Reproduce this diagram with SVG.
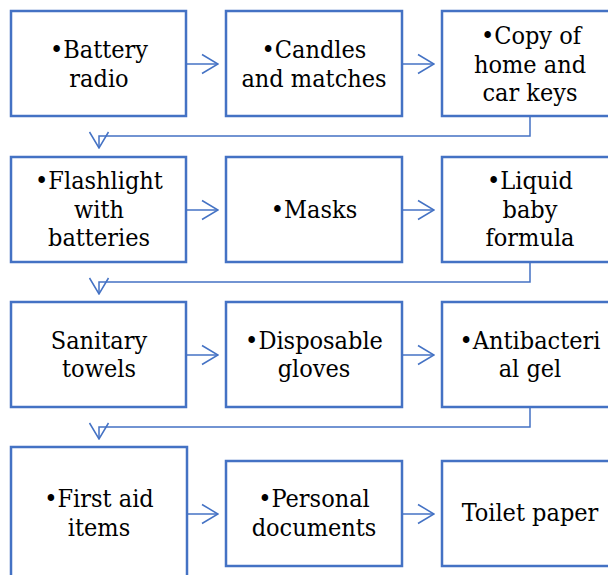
<svg xmlns="http://www.w3.org/2000/svg" width="608" height="575" viewBox="0 0 608 575">
<defs>
<style>
.box{fill:#fff;stroke:#4472C4;stroke-width:2.5}
.t{font-family:'DejaVu Serif Condensed','DejaVu Serif','Liberation Serif',serif;font-stretch:condensed;font-size:25px;fill:#000;text-anchor:middle}
.c{fill:none;stroke:#4472C4;stroke-width:1.5}
</style>
<marker id="ah" viewBox="0 0 18 22" refX="17" refY="11" markerWidth="18" markerHeight="22" markerUnits="userSpaceOnUse" orient="auto">
<path d="M1,1.5 L17,11 L1,20.5" fill="none" stroke="#4472C4" stroke-width="1.5"/>
</marker>
</defs>
<rect width="608" height="575" fill="#fff"/>
<g id="connectors">
<path class="c" d="M186,64 H218" marker-end="url(#ah)"/>
<path class="c" d="M402,64 H434" marker-end="url(#ah)"/>
<path class="c" d="M530,116 V136 H99 V148" marker-end="url(#ah)"/>
<path class="c" d="M186,210 H218" marker-end="url(#ah)"/>
<path class="c" d="M402,210 H434" marker-end="url(#ah)"/>
<path class="c" d="M530,262 V282 H99 V294" marker-end="url(#ah)"/>
<path class="c" d="M186,355 H218" marker-end="url(#ah)"/>
<path class="c" d="M402,355 H434" marker-end="url(#ah)"/>
<path class="c" d="M530,407 V427 H99 V439" marker-end="url(#ah)"/>
<path class="c" d="M187,514 H218" marker-end="url(#ah)"/>
<path class="c" d="M402,514 H434" marker-end="url(#ah)"/>
</g>
<g id="n1"><rect class="box" x="11" y="11" width="175" height="105"/><text class="t" x="99" y="58">•Battery</text><text class="t" x="99" y="87">radio</text></g>
<g id="n2"><rect class="box" x="226" y="11" width="176" height="105"/><text class="t" x="314" y="58">•Candles</text><text class="t" x="314" y="87">and matches</text></g>
<g id="n3"><rect class="box" x="442" y="11" width="176" height="105"/><text class="t" x="531" y="44">•Copy of</text><text class="t" x="530" y="73">home and</text><text class="t" x="530" y="101">car keys</text></g>
<g id="n4"><rect class="box" x="11" y="157" width="175" height="105"/><text class="t" x="99" y="189">•Flashlight</text><text class="t" x="99" y="218">with</text><text class="t" x="99" y="246">batteries</text></g>
<g id="n5"><rect class="box" x="226" y="157" width="176" height="105"/><text class="t" x="314" y="218">•Masks</text></g>
<g id="n6"><rect class="box" x="442" y="157" width="176" height="105"/><text class="t" x="530" y="189">•Liquid</text><text class="t" x="530" y="218">baby</text><text class="t" x="530" y="246">formula</text></g>
<g id="n7"><rect class="box" x="11" y="302" width="175" height="105"/><text class="t" x="99" y="349">Sanitary</text><text class="t" x="99" y="377">towels</text></g>
<g id="n8"><rect class="box" x="226" y="302" width="176" height="105"/><text class="t" x="314" y="349">•Disposable</text><text class="t" x="314" y="377">gloves</text></g>
<g id="n9"><rect class="box" x="442" y="302" width="176" height="105"/><text class="t" x="530" y="349">•Antibacteri</text><text class="t" x="530" y="377">al gel</text></g>
<g id="n10"><rect class="box" x="11" y="447" width="176" height="134"/><text class="t" x="99" y="507">•First aid</text><text class="t" x="99" y="536">items</text></g>
<g id="n11"><rect class="box" x="226" y="461" width="176" height="105"/><text class="t" x="314" y="507">•Personal</text><text class="t" x="314" y="536">documents</text></g>
<g id="n12"><rect class="box" x="442" y="461" width="176" height="105"/><text class="t" x="530" y="521">Toilet paper</text></g>
</svg>
